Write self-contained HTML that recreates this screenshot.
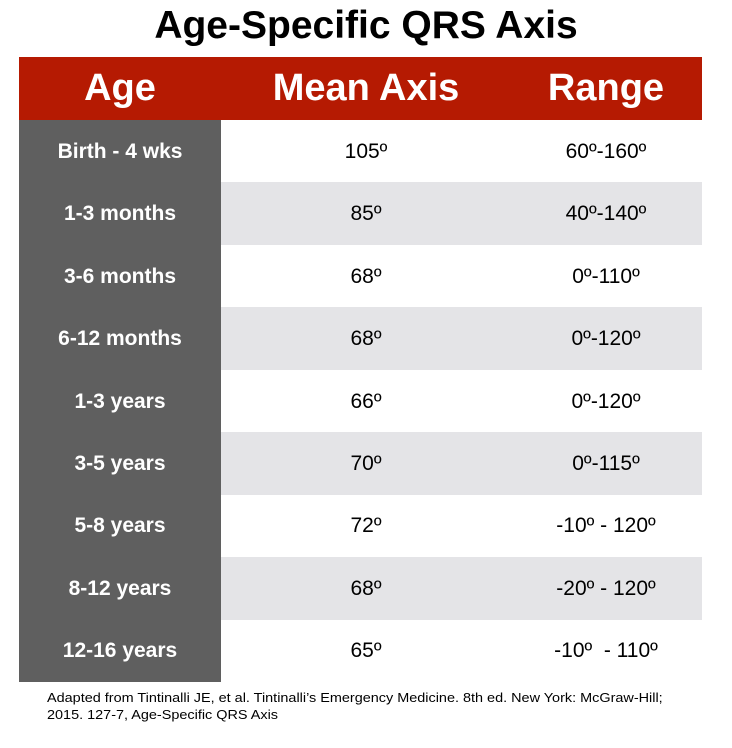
<!DOCTYPE html>
<html><head><style>
body{margin:0;width:732px;height:748px;background:#fff;position:relative;font-family:"Liberation Sans",Arial,sans-serif;overflow:hidden}
.title{position:absolute;top:3px;left:0;width:732px;text-align:center;font-weight:bold;font-size:39px;line-height:46px;color:#000}
.hdr{position:absolute;left:19px;top:57px;width:683px;height:63px;background:#b51a02}
.hdr div{position:absolute;top:0;height:63px;line-height:63px;color:#fff;font-weight:bold;font-size:38px;text-align:center}
.left{position:absolute;left:19px;top:120px;width:202px;height:562px;background:#5f5f5f}
.row{position:absolute;left:19px;width:683px;height:63px}
.row div{position:absolute;top:0;height:63px;line-height:64px;text-align:center;font-size:21px;color:#000}
.row .a{left:0;width:202px;background:#5f5f5f;color:#fff;font-weight:bold}
.g{background:#e4e4e7}
.foot{position:absolute;left:47px;top:689px;font-size:13px;line-height:17px;color:#000;transform-origin:0 0;transform:scaleX(1.11);white-space:nowrap}
</style></head><body>
<div class="title">Age-Specific QRS Axis</div>
<div class="hdr">
<div style="left:0;width:202px">Age</div>
<div style="left:222px;width:250px">Mean Axis</div>
<div style="left:470px;width:234px">Range</div>
</div>
<div class="row" style="top:120px"><div class="a">Birth - 4 wks</div><div style="left:222px;width:250px">105º</div><div style="left:470px;width:234px">60º-160º</div></div>
<div class="row g" style="top:182px"><div class="a">1-3 months</div><div style="left:222px;width:250px">85º</div><div style="left:470px;width:234px">40º-140º</div></div>
<div class="row" style="top:245px"><div class="a">3-6 months</div><div style="left:222px;width:250px">68º</div><div style="left:470px;width:234px">0º-110º</div></div>
<div class="row g" style="top:307px"><div class="a">6-12 months</div><div style="left:222px;width:250px">68º</div><div style="left:470px;width:234px">0º-120º</div></div>
<div class="row" style="top:370px"><div class="a">1-3 years</div><div style="left:222px;width:250px">66º</div><div style="left:470px;width:234px">0º-120º</div></div>
<div class="row g" style="top:432px"><div class="a">3-5 years</div><div style="left:222px;width:250px">70º</div><div style="left:470px;width:234px">0º-115º</div></div>
<div class="row" style="top:494px"><div class="a">5-8 years</div><div style="left:222px;width:250px">72º</div><div style="left:470px;width:234px">-10º - 120º</div></div>
<div class="row g" style="top:557px"><div class="a">8-12 years</div><div style="left:222px;width:250px">68º</div><div style="left:470px;width:234px">-20º - 120º</div></div>
<div class="row" style="top:619px"><div class="a">12-16 years</div><div style="left:222px;width:250px">65º</div><div style="left:470px;width:234px">-10º&nbsp; - 110º</div></div>
<div class="foot">Adapted from Tintinalli JE, et al. Tintinalli’s Emergency Medicine. 8th ed. New York: McGraw-Hill;<br>2015. 127-7, Age-Specific QRS Axis</div>
</body></html>
